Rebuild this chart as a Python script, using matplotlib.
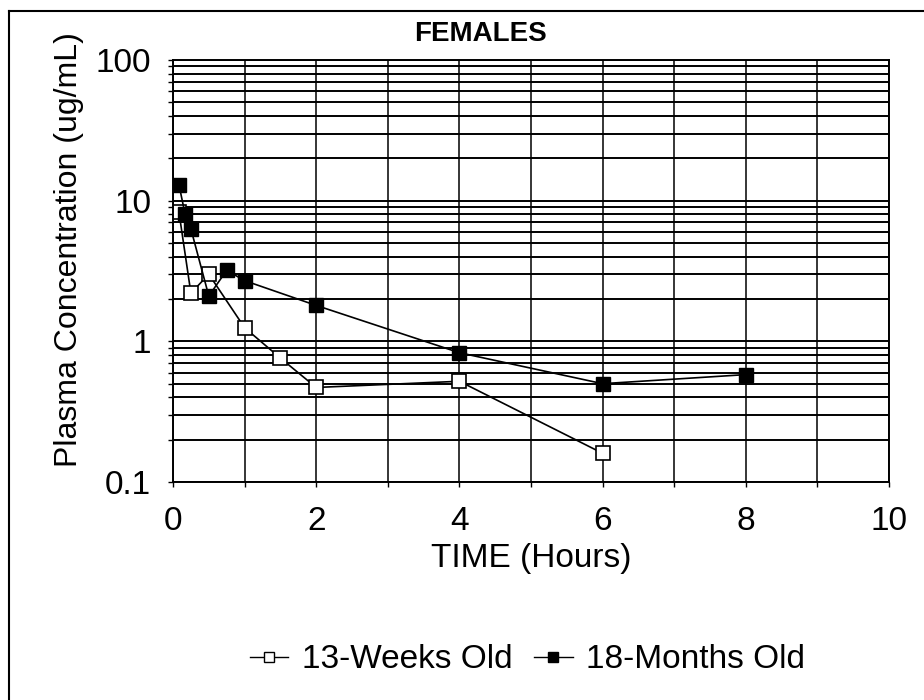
import matplotlib
matplotlib.use("Agg")
import matplotlib.pyplot as plt
from matplotlib.lines import Line2D
from matplotlib.ticker import LogLocator, FixedLocator, NullFormatter

plt.rcParams['font.family'] = ['Liberation Sans', 'DejaVu Sans']

# Data
time_13w = [0.083, 0.25, 0.5, 1.0, 1.5, 2.0, 4.0, 6.0]
conc_13w = [8.3, 2.2, 3.0, 1.25, 0.76, 0.47, 0.52, 0.16]

time_18m = [0.083, 0.167, 0.25, 0.5, 0.75, 1.0, 2.0, 4.0, 6.0, 8.0]
conc_18m = [13.0, 8.1, 6.3, 2.1, 3.2, 2.7, 1.8, 0.83, 0.5, 0.58]

x_ticks = [0, 2, 4, 6, 8, 10]
y_ticks = [0.1, 1, 10, 100]
y_tick_labels = ["0.1", "1", "10", "100"]

W, H = 924, 700
fig = plt.figure(figsize=(W / 100, H / 100), dpi=100)
ax = fig.add_axes([173 / W, 1 - 482 / H, (889 - 173) / W, (482 - 60) / H])

ax.set_yscale("log")
ax.set_xlim(0, 10)
ax.set_ylim(0.1, 100)

# Grid: vertical every hour, horizontal at every log step
ax.xaxis.set_major_locator(FixedLocator(x_ticks))
ax.xaxis.set_minor_locator(FixedLocator([1, 3, 5, 7, 9]))
ax.yaxis.set_major_locator(FixedLocator(y_ticks))
ax.yaxis.set_minor_locator(LogLocator(base=10, subs=range(2, 10)))
ax.yaxis.set_minor_formatter(NullFormatter())
ax.set_yticklabels(y_tick_labels)

ax.grid(True, which="both", axis="y", color="black", linewidth=1.4)
ax.grid(True, which="both", axis="x", color="black", linewidth=1.1)
ax.set_axisbelow(True)

ax.tick_params(which="both", direction="out", color="black", width=1.0, length=3.6,
               labelsize=24)
ax.tick_params(axis="y", pad=12)
ax.tick_params(axis="x", pad=14)
for s in ax.spines.values():
    s.set_linewidth(1.4)

ax.plot(time_13w, conc_13w, color="black", linewidth=1.2, marker="s", markersize=10,
        markerfacecolor="white", markeredgecolor="black", markeredgewidth=1.2)
ax.plot(time_18m, conc_18m, color="black", linewidth=1.2, marker="s", markersize=10,
        markerfacecolor="black", markeredgecolor="black")

fig.text(481 / W, 1 - 34 / H, "FEMALES", fontsize=20, fontweight="bold",
         ha="center", va="center")
ax.set_xlabel("TIME (Hours)", fontsize=24, va="top")
ax.xaxis.set_label_coords(0.5, -(543 - 482) / 422)
ax.set_ylabel("Plasma Concentration (ug/mL)", fontsize=23)
ax.yaxis.set_label_coords((84 - 173) / 716, (482 - 250) / 422)

handles = [
    Line2D([], [], color="black", linewidth=1.0, marker="s", markersize=7,
           markerfacecolor="white", markeredgecolor="black"),
    Line2D([], [], color="black", linewidth=1.0, marker="s", markersize=7,
           markerfacecolor="black", markeredgecolor="black"),
]
fig.legend(handles, ["13-Weeks Old", "18-Months Old"], loc="center left",
           bbox_to_anchor=(250 / W, 1 - 660 / H), ncol=2, frameon=False,
           fontsize=24, handlelength=1.15, handletextpad=0.4, columnspacing=0.66,
           borderpad=0, borderaxespad=0)

# Scanned page border (left and top edges)
fig.add_artist(Line2D([9 / W, 9 / W], [0, 1 - 11 / H], color="black", linewidth=1.5))
fig.add_artist(Line2D([9 / W, 1], [1 - 11 / H, 1 - 11 / H], color="black", linewidth=1.5))

fig.savefig("out.png", dpi=100)
